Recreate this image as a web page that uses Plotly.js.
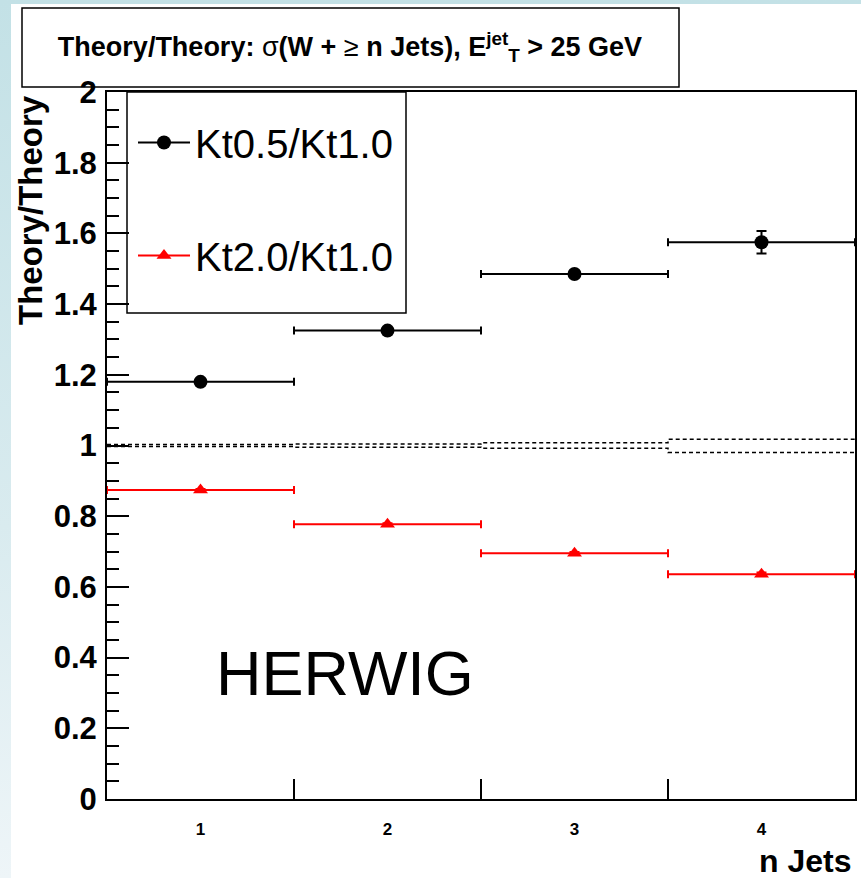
<!DOCTYPE html>
<html>
<head>
<meta charset="utf-8">
<script src="https://cdn.plot.ly/plotly-3.0.1.min.js"></script>
<style>
  html, body { margin: 0; padding: 0; }
  body { width: 861px; height: 878px; position: relative; overflow: hidden;
         background: linear-gradient(to bottom, #c3e1e6 0%, #d9ebef 60%, #eef5f8 100%); }
  #sheet { position: absolute; left: 11px; top: 4px; right: 0; bottom: 0; background: #ffffff; }
  #chart { position: absolute; left: 0; top: 0; width: 861px; height: 878px; }
</style>
</head>
<body>
<div id="sheet"></div>
<div id="chart"></div>
<script>
// ---- data ----
const nJets        = [1, 2, 3, 4];
const tickLabels   = ["1", "2", "3", "4"];
const binEdges     = [0.5, 1.5, 2.5, 3.5, 4.5];
const binHalfWidth = [0.5, 0.5, 0.5, 0.5];
const kt05         = [1.180, 1.325, 1.485, 1.575];
const kt05Err      = [0.004, 0.005, 0.007, 0.032];
const kt20         = [0.874, 0.777, 0.695, 0.636];
const kt20Err      = [0.003, 0.003, 0.004, 0.005];
const refUp        = [1.003, 1.004, 1.008, 1.018];
const refLow       = [0.997, 0.995, 0.992, 0.980];
const seriesNames  = ["Kt0.5/Kt1.0", "Kt2.0/Kt1.0"];

const FONT = "Liberation Sans, Arial, Helvetica, sans-serif";
const stepY = a => a.concat([a[a.length - 1]]);

const traces = [
  { x: binEdges, y: stepY(refUp), mode: "lines", line: { shape: "hv", color: "black", width: 1.5, dash: "4px,3px" },
    showlegend: false, hoverinfo: "skip" },
  { x: binEdges, y: stepY(refLow), mode: "lines", line: { shape: "hv", color: "black", width: 1.5, dash: "4px,3px" },
    showlegend: false, hoverinfo: "skip" },
  { x: nJets, y: kt05, mode: "markers", showlegend: false,
    marker: { symbol: "circle", size: 14, color: "black" },
    error_x: { type: "data", array: binHalfWidth, color: "black", thickness: 2, width: 4 },
    error_y: { type: "data", array: kt05Err, color: "black", thickness: 2, width: 5 } },
  { x: nJets, y: kt20, mode: "markers", showlegend: false,
    marker: { symbol: "triangle-up", size: 13, color: "#ff0000" },
    error_x: { type: "data", array: binHalfWidth, color: "#ff0000", thickness: 2, width: 4 },
    error_y: { type: "data", array: kt20Err, color: "#ff0000", thickness: 2, width: 5 } },
  // legend entries (line + marker, as in the reference legend)
  { x: [null], y: [null], name: seriesNames[0], legendgroup: "a", mode: "lines+markers",
    line: { color: "black", width: 2 }, marker: { symbol: "circle", size: 14, color: "black" } },
  { x: [null], y: [null], name: seriesNames[1], legendgroup: "b", mode: "lines+markers",
    line: { color: "#ff0000", width: 2 }, marker: { symbol: "triangle-up", size: 13, color: "#ff0000" } }
];

const L = 107, R = 855, T = 92, B = 799;
const px = v => (v - L) / (R - L);
const py = v => (B - v) / (B - T);

const layout = {
  width: 861, height: 878,
  margin: { l: L, r: 861 - R, t: T, b: 878 - B },
  paper_bgcolor: "rgba(0,0,0,0)",
  plot_bgcolor: "#ffffff",
  font: { family: FONT, color: "black" },
  showlegend: true,
  title: {
    text: "<b>Theory/Theory: </b>σ<b>(W + </b>≥<b> n Jets), E<sup>jet</sup><sub>T</sub> > 25 GeV</b>",
    font: { family: FONT, size: 27, color: "black" },
    x: 350 / 861, xref: "container", xanchor: "center",
    y: 1 - 47 / 878, yref: "container", yanchor: "middle"
  },
  xaxis: {
    range: [0.5, 4.5], tickmode: "array", tickvals: nJets, ticktext: tickLabels,
    ticks: "", showgrid: false, zeroline: false,
    showline: true, mirror: true, linecolor: "black", linewidth: 2,
    tickfont: { family: FONT, size: 17, weight: "bold", color: "black" },
    ticklabelstandoff: 14,
    minor: { tickmode: "array", tickvals: [1.5, 2.5, 3.5], ticks: "inside", ticklen: 20, tickwidth: 2, tickcolor: "black", showgrid: false }
  },
  yaxis: {
    range: [0, 2], dtick: 0.2, tick0: 0,
    ticks: "inside", ticklen: 22, tickwidth: 2, tickcolor: "black",
    showgrid: false, zeroline: false,
    showline: true, mirror: true, linecolor: "black", linewidth: 2,
    tickfont: { family: FONT, size: 31, weight: "bold", color: "black" },
    ticklabelstandoff: 2,
    minor: { dtick: 0.05, ticks: "inside", ticklen: 12, tickwidth: 2, tickcolor: "black", showgrid: false }
  },
  legend: {
    x: px(133), y: py(110), xanchor: "left", yanchor: "top",
    bgcolor: "rgba(0,0,0,0)", borderwidth: 0,
    font: { family: FONT, size: 40, color: "black" },
    tracegroupgap: 58, itemwidth: 52
  },
  shapes: [
    { type: "rect", xref: "paper", yref: "paper", x0: px(127), x1: px(406), y0: py(313), y1: py(92),
      line: { color: "black", width: 1.5 }, fillcolor: "rgba(0,0,0,0)", layer: "above" },
    { type: "rect", xref: "paper", yref: "paper", x0: px(22), x1: px(679), y0: py(87), y1: py(8),
      line: { color: "black", width: 1.5 }, fillcolor: "#ffffff", layer: "below" }
  ],
  annotations: [
    { text: "<b>Theory/Theory</b>", textangle: -90, xref: "paper", yref: "paper",
      x: px(30), y: py(93), xanchor: "center", yanchor: "top", showarrow: false,
      font: { family: FONT, size: 33, color: "black" } },
    { text: "<b>n Jets</b>", xref: "paper", yref: "paper", x: px(853), y: py(861),
      xanchor: "right", yanchor: "middle", showarrow: false,
      font: { family: FONT, size: 32, color: "black" } },
    { text: "HERWIG", xref: "paper", yref: "paper", x: px(345), y: py(673),
      xanchor: "center", yanchor: "middle", showarrow: false,
      font: { family: FONT, size: 63, color: "black" } }
  ]
};

Plotly.newPlot("chart", traces, layout, { displayModeBar: false, staticPlot: true });
</script>
</body>
</html>
